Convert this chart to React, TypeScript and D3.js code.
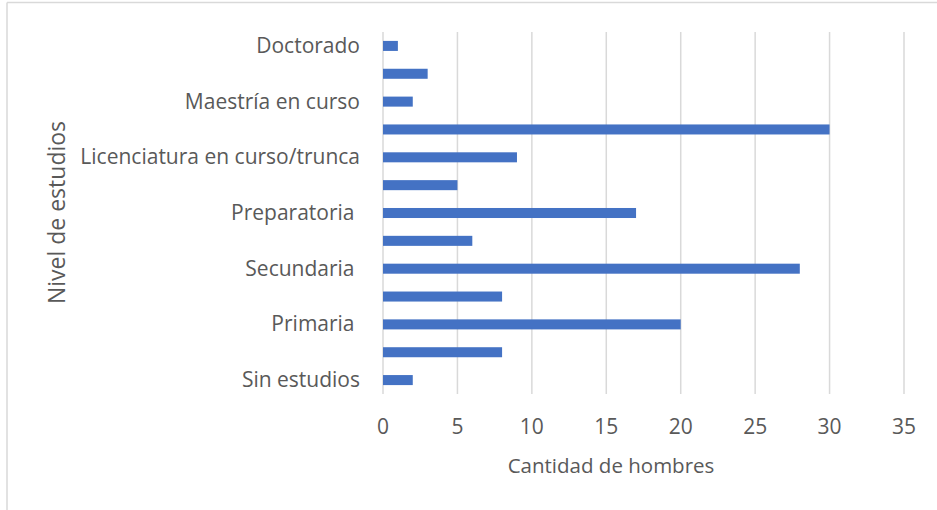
import React from "react";
import * as d3 from "d3";

const categories = [
  "Sin estudios",
  "Primaria trunca",
  "Primaria ",
  "Secundaria trunca",
  "Secundaria ",
  "Preparatoria trunca",
  "Preparatoria ",
  "Carrera técnica",
  "Licenciatura en curso/trunca",
  "Licenciatura",
  "Maestría en curso",
  "Maestría",
  "Doctorado",
];
const values = [2, 8, 20, 8, 28, 6, 17, 5, 9, 30, 2, 3, 1];
const xTicks = [0, 5, 10, 15, 20, 25, 30, 35];
const xTitle = "Cantidad de hombres";
const yTitle = "Nivel de estudios";

const W = 937;
const H = 510;
const FONT = "'Open Sans', sans-serif";
const TEXT = "#595959";

export default function App() {
  const x = d3.scaleLinear().domain([0, 35]).range([383, 904]);
  const y = d3
    .scaleBand<string>()
    .domain([...categories].reverse())
    .range([32, 394])
    .paddingInner(0.64)
    .paddingOuter(0.32);
  const bh = y.bandwidth();
  return (
    <svg
      width={W}
      height={H}
      style={{ position: "absolute", left: 0, top: 0 }}
      fontFamily={FONT}
    >
      <rect x={0} y={0} width={W} height={H} fill="#fff" />
      <line x1={7} x2={W} y1={2.5} y2={2.5} stroke="#d9d9d9" strokeWidth={1.5} />
      <line x1={7} x2={7} y1={2.5} y2={H} stroke="#d9d9d9" strokeWidth={1.5} />
      {xTicks.map((t) => (
        <line key={t} x1={x(t)} x2={x(t)} y1={32} y2={394} stroke="#d9d9d9" strokeWidth={1.5} />
      ))}
      {categories.map((c, i) => (
        <rect
          key={c}
          x={x(0)}
          y={y(c)!}
          width={x(values[i]) - x(0)}
          height={bh}
          fill="#4472c4"
        />
      ))}
      {categories.map((c, i) =>
        i % 2 === 0 ? (
          <text
            key={c}
            x={360}
            y={y(c)! + bh / 2 + 7}
            textAnchor="end"
            fontSize={21}
            fill={TEXT}
            style={{ whiteSpace: "pre" }}
          >
            {c}
          </text>
        ) : null
      )}
      {xTicks.map((t) => (
        <text key={t} x={x(t)} y={434} textAnchor="middle" fontSize={21} fill={TEXT}>
          {t}
        </text>
      ))}
      <text x={611} y={473} textAnchor="middle" fontSize={20.5} fill={TEXT}>
        {xTitle}
      </text>
      <text
        transform={`translate(65,212.5) rotate(-90)`}
        textAnchor="middle"
        fontSize={23}
        fill={TEXT}
      >
        {yTitle}
      </text>
    </svg>
  );
}
